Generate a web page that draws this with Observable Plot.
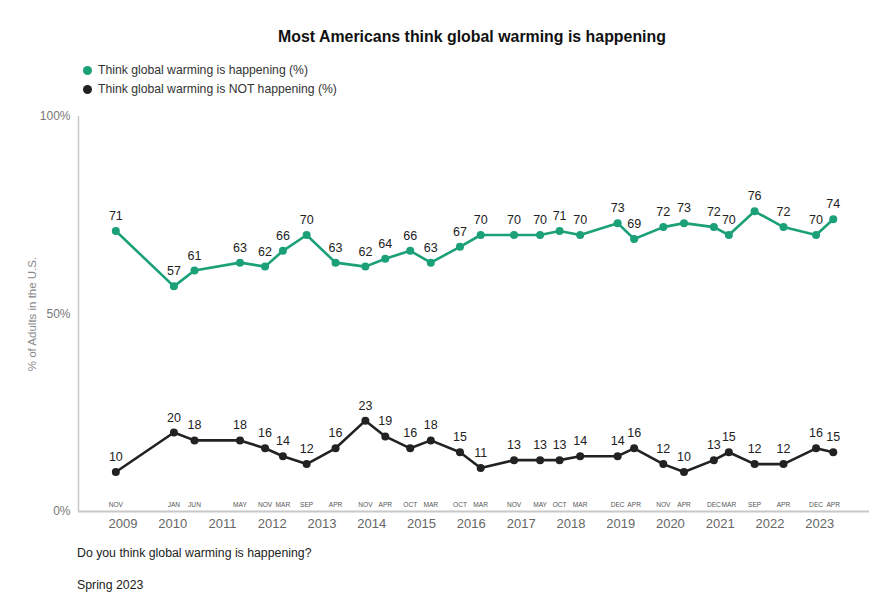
<!DOCTYPE html>
<html>
<head>
<meta charset="utf-8">
<script src="https://cdn.jsdelivr.net/npm/d3@7"></script>
<script src="https://cdn.jsdelivr.net/npm/@observablehq/plot@0.6"></script>
<style>
  html, body { margin: 0; padding: 0; background: #fff; }
  body { font-family: "Liberation Sans", Arial, sans-serif; }
  #wrap { position: relative; width: 880px; height: 604px; overflow: hidden; }
  #title { position: absolute; left: 0; width: 944px; top: 28px; text-align: center; font-weight: bold; font-size: 15.9px; color: #111; }
  .leg { position: absolute; left: 83px; font-size: 12.2px; color: #333; display: flex; align-items: center; }
  .leg span.dot { display: inline-block; width: 9px; height: 9px; border-radius: 50%; margin-right: 6px; }
  #chart { position: absolute; left: 0; top: 100px; }
  .cap { position: absolute; left: 77px; font-size: 12.3px; color: #222; }
</style>
</head>
<body>
<div id="wrap">
  <div id="title">Most Americans think global warming is happening</div>
  <div class="leg" style="top:63px"><span class="dot" style="background:#1ba078"></span>Think global warming is happening (%)</div>
  <div class="leg" style="top:82px"><span class="dot" style="background:#222"></span>Think global warming is NOT happening (%)</div>
  <div id="chart"></div>
  <div class="cap" style="top:546px">Do you think global warming is happening?</div>
  <div class="cap" style="top:578px">Spring 2023</div>
</div>
<script>
const surveyDates = ["2008-11-10","2010-01-10","2010-06-10","2011-05-10","2011-11-10","2012-03-20","2012-09-10","2013-04-10","2013-11-15","2014-04-10","2014-10-10","2015-03-10","2015-10-10","2016-03-10","2016-11-10","2017-05-20","2017-10-10","2018-03-10","2018-12-10","2019-04-10","2019-11-10","2020-04-10","2020-11-15","2021-03-05","2021-09-10","2022-04-10","2022-12-05","2023-04-10"];
const monthLabels = ["NOV","JAN","JUN","MAY","NOV","MAR","SEP","APR","NOV","APR","OCT","MAR","OCT","MAR","NOV","MAY","OCT","MAR","DEC","APR","NOV","APR","DEC","MAR","SEP","APR","DEC","APR"];
const happening    = [71,57,61,63,62,66,70,63,62,64,66,63,67,70,70,70,71,70,73,69,72,73,72,70,76,72,70,74];
const notHappening = [10,20,18,18,16,14,12,16,23,19,16,18,15,11,13,13,13,14,14,16,12,10,13,15,12,12,16,15];
const yearTicks = [2009,2010,2011,2012,2013,2014,2015,2016,2017,2018,2019,2020,2021,2022,2023];
const yTicks = [0,50,100];

const GREEN = "#1ba078", BLACK = "#222";
const rows = surveyDates.map((s, i) => ({
  date: new Date(s + "T00:00:00Z"),
  month: monthLabels[i],
  happen: happening[i],
  notHappen: notHappening[i]
}));
const xDomain = [new Date("2008-02-10T00:00:00Z"), new Date("2024-01-01T00:00:00Z")];

const chart = Plot.plot({
  width: 880,
  height: 440,
  marginLeft: 78,
  marginRight: 11,
  marginTop: 16,
  marginBottom: 29,
  style: { fontFamily: "Liberation Sans, Arial, sans-serif", background: "#fff" },
  x: { type: "utc", domain: xDomain },
  y: { domain: [0, 100] },
  marks: [
    Plot.ruleX([xDomain[0]], { stroke: "#c8c8c8", strokeWidth: 1.5 }),
    Plot.ruleY([0], { stroke: "#c8c8c8", strokeWidth: 2 }),
    Plot.axisY({ ticks: yTicks, tickFormat: d => d + "%", tickSize: 0, tickPadding: 8, fontSize: 12, fill: "#777", label: null }),
    Plot.axisX({ ticks: yearTicks.map(y => new Date(Date.UTC(y, 0, 1))), tickFormat: d3.utcFormat("%Y"), tickSize: 0, tickPadding: 7, fontSize: 13, fill: "#666", label: null }),
    Plot.text(["% of Adults in the U.S."], { frameAnchor: "left", textAnchor: "middle", dx: -46, rotate: -90, text: d => d, fontSize: 11.5, fill: "#888" }),
    Plot.text(rows, { x: "date", y: 0, text: "month", dy: -7, fontSize: 6.6, fill: "#555" }),
    Plot.line(rows, { x: "date", y: "happen", stroke: GREEN, strokeWidth: 2.6 }),
    Plot.dot(rows, { x: "date", y: "happen", fill: GREEN, r: 4 }),
    Plot.text(rows, { x: "date", y: "happen", text: "happen", dy: -15, fontSize: 12.5, fill: "#222" }),
    Plot.line(rows, { x: "date", y: "notHappen", stroke: BLACK, strokeWidth: 2.6 }),
    Plot.dot(rows, { x: "date", y: "notHappen", fill: BLACK, r: 4 }),
    Plot.text(rows, { x: "date", y: "notHappen", text: "notHappen", dy: -15, fontSize: 12.5, fill: "#222" })
  ]
});
document.getElementById("chart").appendChild(chart);
</script>
</body>
</html>
